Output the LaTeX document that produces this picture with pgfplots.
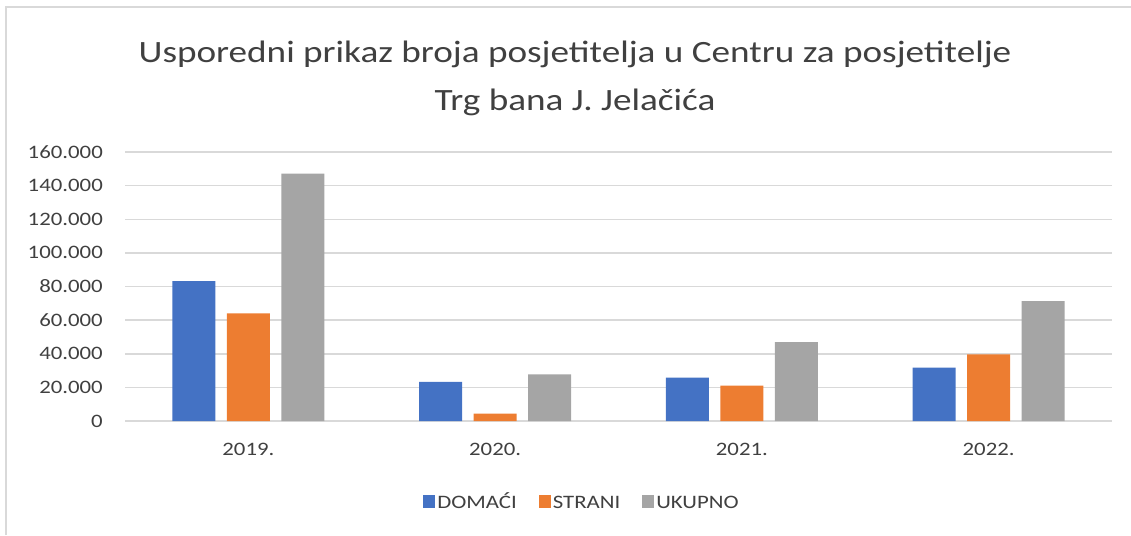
\documentclass[border=0pt]{standalone}
\usepackage{pgfplots}
\pgfplotsset{compat=1.18}
\usepackage{fontspec}
\setmainfont{Carlito}[FakeStretch=1.2]
\definecolor{cblue}{HTML}{4472C4}
\definecolor{corange}{HTML}{ED7D31}
\definecolor{cgray}{HTML}{A5A5A5}
\definecolor{ctext}{HTML}{404040}
\definecolor{cgrid}{HTML}{D9D9D9}
\begin{document}
\begin{tikzpicture}[x=1pt,y=1pt]
\path[use as bounding box] (0,0) rectangle (1131,-535);
\draw[cgrid, line width=1.5pt] (6,-535) -- (6,-7) -- (1131,-7);
\node[text=ctext, align=center, font=\fontsize{31}{48}\selectfont] at (575,-78) {Usporedni prikaz broja posjetitelja u Centru za posjetitelje\\Trg bana J. Jelačića};
\begin{axis}[
  at={(125pt,-421pt)}, anchor=south west,
  scale only axis, width=987pt, height=269pt,
  xmin=-0.5, xmax=3.5, ymin=0, ymax=160000,
  scaled ticks=false,
  ybar=11.5pt, bar width=43pt,
  axis line style={draw=none},
  major tick length=0pt,
  ymajorgrids, grid style={cgrid, line width=1.5pt},
  ytick={0,20000,40000,60000,80000,100000,120000,140000,160000},
  yticklabels={0,20.000,40.000,60.000,80.000,100.000,120.000,140.000,160.000},
  xtick={0,1,2,3},
  xticklabels={2019.,2020.,2021.,2022.},
  tick label style={text=ctext, font=\fontsize{19}{22}\selectfont},
  yticklabel style={inner sep=0pt, xshift=-22pt},
  xticklabel style={inner sep=0pt, yshift=-22pt},
  legend style={at={(0.463,-0.305)}, anchor=center, draw=none, legend columns=3,
    font=\fontsize{19}{22}\selectfont, text=ctext,
    nodes={inner sep=2pt, text height=14pt, text depth=4pt},
    /tikz/every even column/.append style={column sep=20pt}},
  legend image code/.code={\fill[#1] (0pt,-5pt) rectangle (12pt,8pt);},
]
\addplot[fill=cblue, draw=none] coordinates {(0,83200) (1,23300) (2,25800) (3,31700)};
\addplot[fill=corange, draw=none] coordinates {(0,64000) (1,4400) (2,21100) (3,39600)};
\addplot[fill=cgray, draw=none] coordinates {(0,147200) (1,27700) (2,46900) (3,71300)};
\legend{DOMAĆI, STRANI, UKUPNO}
\end{axis}
\end{tikzpicture}
\end{document}
